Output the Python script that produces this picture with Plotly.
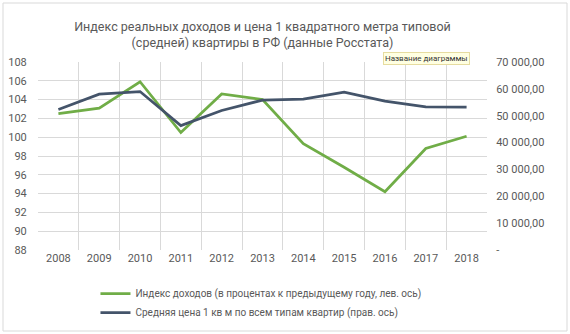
import plotly.graph_objects as go

years = ["2008", "2009", "2010", "2011", "2012", "2013", "2014", "2015", "2016", "2017", "2018"]
income_index = [102.5, 103.1, 105.9, 100.5, 104.6, 104.0, 99.3, 96.8, 94.2, 98.8, 100.1]
price_sqm = [52300, 58000, 59000, 46300, 51950, 55800, 56200, 58800, 55400, 53300, 53200]

left_ticks = list(range(88, 109, 2))
right_ticks = list(range(0, 70001, 10000))
right_ticktext = ["-" if v == 0 else f"{v:,}".replace(",", " ") + ",00" for v in right_ticks]

name_income = "Индекс доходов (в процентах к предыдущему году, лев. ось)"
name_price = "Средняя цена 1 кв м по всем типам квартир (прав. ось)"
title = "Индекс реальных доходов и цена 1 квадратного метра типовой<br>(средней) квартиры в РФ (данные Росстата)"

FONT = "Roboto"
TXT = "#595959"
GRID = "#d9d9d9"

fig = go.Figure()
fig.add_trace(go.Scatter(x=years, y=income_index, name=name_income, mode="lines",
                         line=dict(color="#70ad47", width=2.75), yaxis="y"))
fig.add_trace(go.Scatter(x=years, y=price_sqm, name=name_price, mode="lines",
                         line=dict(color="#44546a", width=2.75), yaxis="y2"))

fig.update_layout(
    width=570, height=334,
    margin=dict(l=38, r=83, t=62, b=84, autoexpand=False),
    paper_bgcolor="white", plot_bgcolor="white",
    font=dict(family=FONT, size=11, color=TXT),
    title=dict(text=title, x=0.5, xanchor="center", xref="paper",
               y=1 - 31 / 334, yanchor="middle", yref="container",
               font=dict(family=FONT, size=12.5, color=TXT)),
    xaxis=dict(type="category", tickson="boundaries", range=[-0.5, 10.5],
               showgrid=True, gridcolor=GRID, gridwidth=1,
               ticks="outside", ticklen=10, tickcolor="rgba(0,0,0,0)",
               showline=False, zeroline=False, automargin=False,
               tickfont=dict(size=11, color=TXT)),
    yaxis=dict(range=[88, 108], tickvals=left_ticks, showgrid=True, gridcolor=GRID,
               gridwidth=1, zeroline=False, showline=False, ticks="outside", automargin=False,
               ticklen=8, tickcolor="rgba(0,0,0,0)", tickfont=dict(size=11, color=TXT)),
    yaxis2=dict(range=[0, 70000], tickvals=right_ticks, ticktext=right_ticktext,
                overlaying="y", side="right", showgrid=False, zeroline=False, automargin=False,
                showline=False, ticks="outside", ticklen=6, tickcolor="rgba(0,0,0,0)",
                tickfont=dict(size=11, color=TXT)),
    legend=dict(orientation="v", x=0.128, xanchor="left", y=1 - 279 / 334, yanchor="top",
                yref="container", font=dict(size=10, color=TXT), tracegroupgap=0,
                bgcolor="rgba(0,0,0,0)"),
    showlegend=True,
    shapes=[dict(type="rect", xref="paper", yref="paper",
                 x0=(3 - 38) / 449, x1=(567 - 38) / 449,
                 y0=(250 - 331) / 188, y1=(250 - 3) / 188,
                 line=dict(color=GRID, width=1), fillcolor="rgba(0,0,0,0)", layer="below")],
    annotations=[dict(text="Название диаграммы", xref="paper", yref="paper",
                      x=(426 - 38) / 449, y=(250 - 58.3) / 188, showarrow=False,
                      xanchor="center", yanchor="middle",
                      font=dict(size=8, color="#333333", family=FONT),
                      bgcolor="#ffffe1", bordercolor="#e6dca0", borderwidth=1, borderpad=1)],
)

fig.write_html("out.html")
